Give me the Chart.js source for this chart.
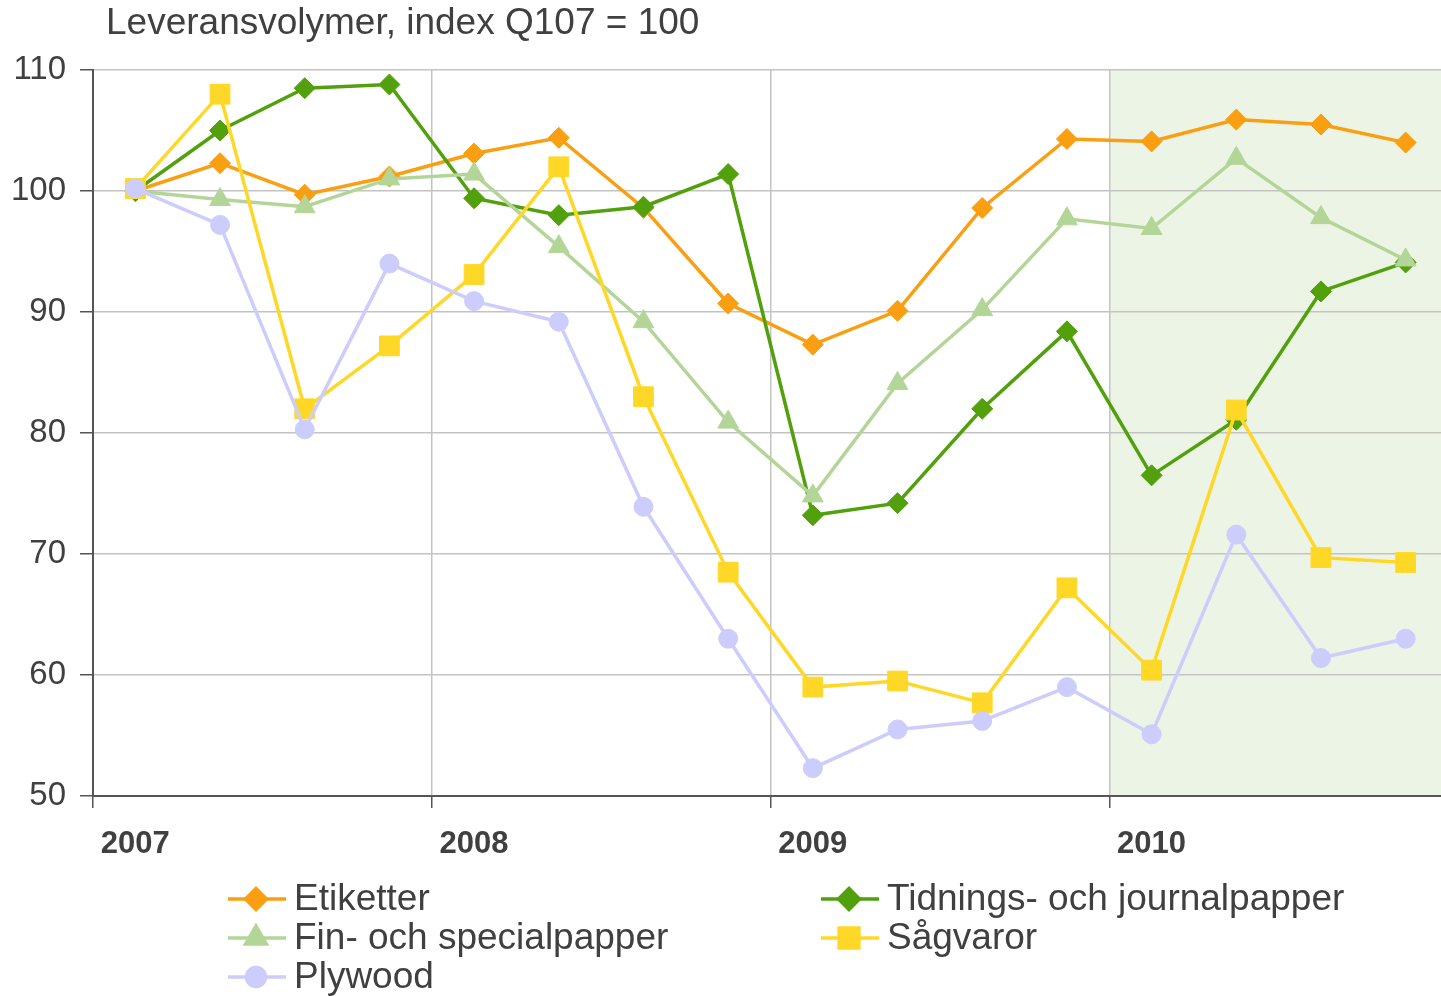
<!DOCTYPE html>
<html>
<head>
<meta charset="utf-8">
<script src="https://cdn.jsdelivr.net/npm/chart.js@4.4.1/dist/chart.umd.min.js"></script>
<style>
  html, body { margin: 0; background: #fff; overflow: hidden; }
</style>
</head>
<body>
<!-- a little wider than the window: the last quarter runs past the right edge, as in the original -->
<canvas id="chart" width="1448" height="996"></canvas>
<script>
const quarters = ["Q1 07", "Q2 07", "Q3 07", "Q4 07", "Q1 08", "Q2 08", "Q3 08", "Q4 08",
                  "Q1 09", "Q2 09", "Q3 09", "Q4 09", "Q1 10", "Q2 10", "Q3 10", "Q4 10"];
const years = ["2007", "2008", "2009", "2010"];

const etiketter = [100, 102.3, 99.7, 101.2, 103.1, 104.4, 98.6, 90.7, 87.3, 90.1, 98.6, 104.3, 104.1, 105.9, 105.5, 104.0];
const tidningar = [100, 105.0, 108.5, 108.8, 99.4, 98.0, 98.7, 101.4, 73.2, 74.2, 82.0, 88.4, 76.5, 81.1, 91.7, 94.1];
const finpapper = [100, 99.3, 98.7, 101.0, 101.4, 95.4, 89.2, 80.9, 74.8, 84.1, 90.2, 97.7, 96.9, 102.7, 97.8, 94.3];
const sagvaror = [100.2, 108.0, 82.0, 87.2, 93.1, 102.0, 83.0, 68.5, 59.0, 59.5, 57.7, 67.2, 60.4, 81.9, 69.7, 69.3];
const plywood = [100.2, 97.2, 80.3, 94.0, 90.9, 89.2, 73.9, 63.0, 52.3, 55.5, 56.2, 59.0, 55.1, 71.6, 61.4, 63.0];

const textColor = "#404040";
const gridColor = "#c3c3c3";
const axisColor = "#555555";
const fontFamily = "'Liberation Sans', Arial, sans-serif";

function series(label, data, color, style, radius, order) {
    return {
        label: label,
        data: data,
        borderColor: color,
        backgroundColor: color,
        borderWidth: 3.5,
        tension: 0,
        pointStyle: style,
        pointRadius: radius,
        pointHoverRadius: radius,
        pointBorderWidth: 1,
        pointBackgroundColor: color,
        pointBorderColor: color,
        order: order
    };
}

const datasets = [
    series("Etiketter", etiketter, "#fa9e12", "rectRot", 10.5, 5),
    series("Tidnings- och journalpapper", tidningar, "#51a00c", "rectRot", 10.5, 4),
    series("Fin- och specialpapper", finpapper, "#b3d698", "triangle", 12, 3),
    series("Sågvaror", sagvaror, "#ffd827", "rect", 14, 2),
    series("Plywood", plywood, "#cdcdfd", "circle", 9.5, 1)
];

// legend slots: which dataset goes where
const legendLeft = ["Etiketter", "Fin- och specialpapper", "Plywood"];
const legendRight = ["Tidnings- och journalpapper", "Sågvaror"];

const decor = {
    id: "decor",
    beforeDraw(chart) {
        const ctx = chart.ctx;
        const x = chart.scales.x;
        const area = chart.chartArea;
        const half = (x.getPixelForValue(1) - x.getPixelForValue(0)) / 2;
        const start = x.getPixelForValue(12) - half;
        ctx.save();
        ctx.fillStyle = "#ecf4e5";
        ctx.fillRect(start, area.top, area.right - start, area.bottom - area.top);
        ctx.restore();
    },
    afterDraw(chart) {
        const ctx = chart.ctx;
        ctx.save();
        ctx.fillStyle = textColor;
        ctx.textBaseline = "middle";
        ctx.textAlign = "left";
        ctx.font = "37px " + fontFamily;
        ctx.fillText("Leveransvolymer, index Q107 = 100", 106, 24);

        const drawItem = (name, x0, y) => {
            const ds = chart.data.datasets.find(d => d.label === name);
            ctx.strokeStyle = ds.borderColor;
            ctx.fillStyle = ds.borderColor;
            ctx.lineWidth = 3.5;
            ctx.beginPath();
            ctx.moveTo(x0, y);
            ctx.lineTo(x0 + 58, y);
            ctx.stroke();
            Chart.helpers.drawPoint(ctx, {
                pointStyle: ds.pointStyle,
                radius: ds.pointRadius,
                borderWidth: 1,
                rotation: 0
            }, x0 + 28, y);
            ctx.fillStyle = textColor;
            ctx.fillText(name, x0 + 66, y + 1);
        };
        legendLeft.forEach((n, i) => drawItem(n, 228, 899 + i * 39));
        legendRight.forEach((n, i) => drawItem(n, 821, 899 + i * 39));
        ctx.restore();
    }
};

new Chart(document.getElementById("chart"), {
    type: "line",
    data: { labels: quarters, datasets: datasets },
    plugins: [decor],
    options: {
        responsive: false,
        animation: false,
        devicePixelRatio: 1,
        layout: { autoPadding: false, padding: { top: 70, right: 0, left: 0, bottom: 0 } },
        plugins: {
            legend: { display: false },
            title: { display: false },
            tooltip: { enabled: false }
        },
        scales: {
            x: {
                offset: true,
                afterFit(scale) { scale.height = 200; },
                grid: {
                    offset: true,
                    lineWidth: 1.5,
                    tickLength: 12,
                    color: ctx => (ctx.index % 4 === 0 && ctx.index > 0 && ctx.index < 16) ? gridColor : "rgba(0,0,0,0)",
                    tickColor: ctx => (ctx.index % 4 === 0 && ctx.index < 16) ? axisColor : "rgba(0,0,0,0)"
                },
                border: { color: axisColor, width: 2 },
                ticks: {
                    autoSkip: false,
                    maxRotation: 0,
                    padding: 18,
                    color: textColor,
                    font: { family: fontFamily, size: 31, weight: "bold" },
                    callback: (v, i) => i % 4 === 0 ? years[i / 4] : ""
                }
            },
            y: {
                min: 50,
                max: 110,
                afterFit(scale) { scale.width = 93; },
                grid: {
                    lineWidth: 1.5,
                    tickLength: 13,
                    color: gridColor,
                    tickColor: axisColor
                },
                border: { color: axisColor, width: 2 },
                ticks: {
                    stepSize: 10,
                    padding: 14,
                    color: textColor,
                    font: { family: fontFamily, size: 33 }
                }
            }
        }
    }
});
</script>
</body>
</html>
